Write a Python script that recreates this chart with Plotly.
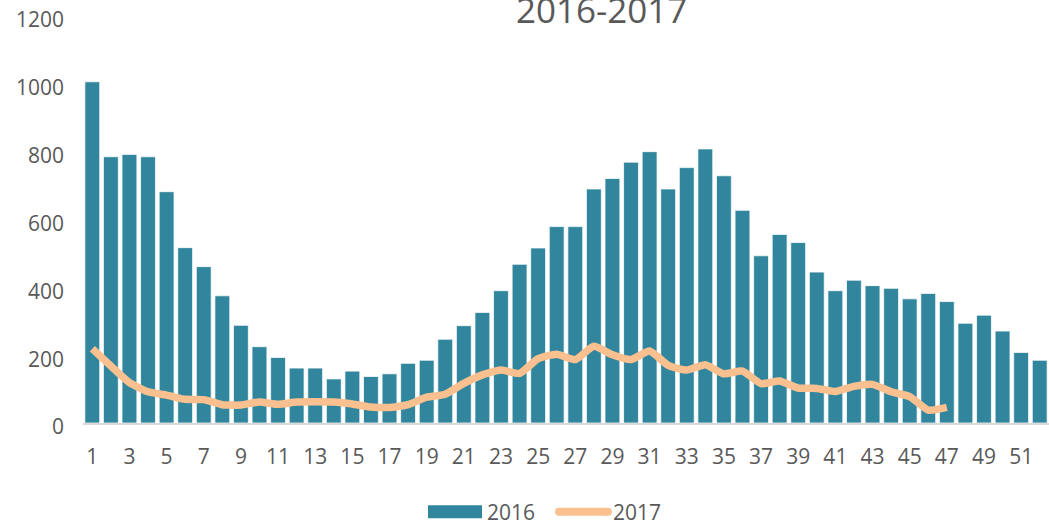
import plotly.graph_objects as go

weeks_2016 = list(range(1, 53))
values_2016 = [1006, 785, 792, 785, 682, 517, 461, 375, 288, 225, 193, 162, 162, 130, 153,
               137, 145, 176, 185, 247, 287, 326, 390, 468, 516, 579, 579, 690, 721, 769,
               800, 690, 753, 808, 729, 627, 493, 556, 532, 445, 390, 421, 405, 397, 366,
               382, 358, 294, 318, 271, 208, 185]

weeks_2017 = list(range(1, 48))
values_2017 = [219, 168, 119, 92, 82, 70, 69, 54, 53, 62, 55, 62, 63, 62, 56,
               47, 46, 54, 76, 85, 117, 142, 156, 146, 190, 203, 187, 226, 201, 187,
               212, 170, 156, 172, 145, 153, 116, 124, 103, 102, 93, 108, 114, 92, 78,
               38, 46]

x_ticks = list(range(1, 53, 2))
y_ticks = [0, 200, 400, 600, 800, 1000, 1200]

BAR = "#31859C"
LINE = "#FAC08F"
TXT = "#595959"
FONT = "Open Sans"

fig = go.Figure()
fig.add_trace(go.Bar(x=weeks_2016, y=values_2016, name="2016",
                     marker=dict(color=BAR, line=dict(color="rgba(255,255,255,0.75)", width=1)),
                     showlegend=False))
fig.add_trace(go.Scatter(x=weeks_2017, y=values_2017, name="2017", mode="lines",
                         line=dict(color=LINE, width=7.5, shape="spline", smoothing=0.5),
                         showlegend=False))

L, R, T, B = 83, 0, 15.5, 100.5
W, H = 1049, 524
pw, ph = W - L - R, H - T - B

def px(x):
    return (x - L) / pw

def py(y):
    return (H - B - y) / ph

fig.update_layout(
    width=W, height=H,
    margin=dict(l=L, r=R, t=T, b=B),
    paper_bgcolor="white", plot_bgcolor="white",
    bargap=0.2,
    font=dict(family=FONT, color=TXT, size=21),
    xaxis=dict(range=[0.5, 52.5], tickmode="array", tickvals=x_ticks,
               ticktext=[str(v) for v in x_ticks], showgrid=False, zeroline=False,
               showline=True, linecolor="#D9D9D9", linewidth=2,
               ticks="", ticklabelstandoff=14, automargin=False,
               tickfont=dict(family=FONT, size=21, color=TXT)),
    yaxis=dict(range=[0, 1200], tickmode="array", tickvals=y_ticks, showgrid=False,
               zeroline=False, showline=False, ticks="", ticklabelstandoff=18,
               ticklabelshift=4, automargin=False, ticklabeloverflow="allow",
               tickfont=dict(family=FONT, size=21, color=TXT)),
    showlegend=False,
)

fig.add_annotation(xref="paper", yref="paper", x=px(601), y=py(9), text="2016-2017",
                   showarrow=False, xanchor="center", yanchor="middle",
                   font=dict(family=FONT, size=35, color=TXT))

# custom legend
fig.add_shape(type="rect", xref="paper", yref="paper", x0=px(428), x1=px(482),
              y0=py(519), y1=py(506), fillcolor=BAR, line=dict(width=0))
fig.add_annotation(xref="paper", yref="paper", x=px(485), y=py(513), text="2016",
                   showarrow=False, xanchor="left", yanchor="middle",
                   font=dict(family=FONT, size=21, color=TXT))
fig.add_shape(type="rect", xref="paper", yref="paper", x0=px(559), x1=px(608),
              y0=py(516.5), y1=py(508.5), fillcolor=LINE, line=dict(width=0))
for cx in (559, 608):
    fig.add_shape(type="circle", xref="paper", yref="paper", xsizemode="pixel",
                  ysizemode="pixel", xanchor=px(cx), yanchor=py(512.5),
                  x0=-4, x1=4, y0=-4, y1=4, fillcolor=LINE, line=dict(width=0))
fig.add_annotation(xref="paper", yref="paper", x=px(611), y=py(513), text="2017",
                   showarrow=False, xanchor="left", yanchor="middle",
                   font=dict(family=FONT, size=21, color=TXT))

fig.write_html("out.html", config={"displayModeBar": False},
               post_script="document.body.style.margin='0';document.body.style.overflow='hidden';")
